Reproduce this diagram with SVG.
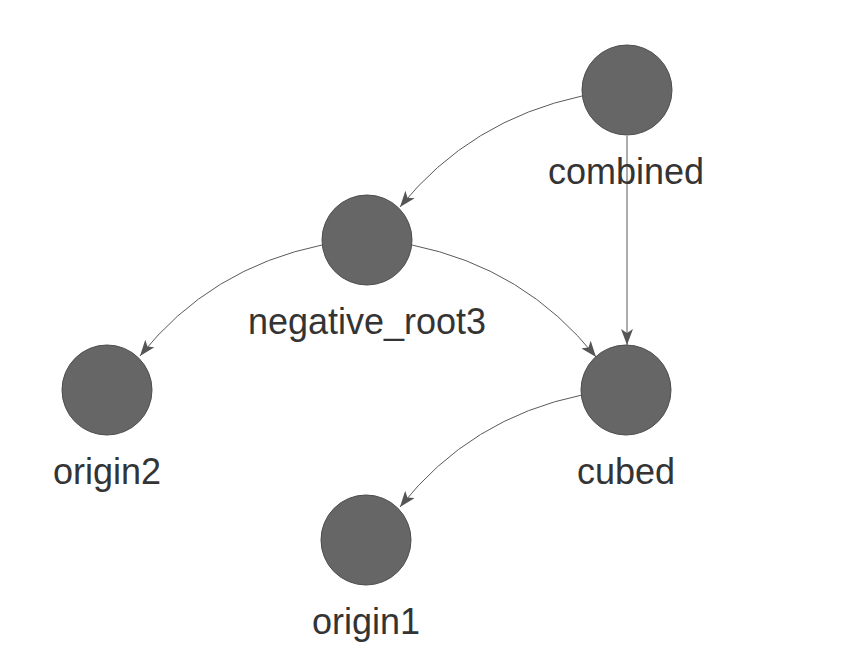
<svg xmlns="http://www.w3.org/2000/svg" width="850" height="671" viewBox="0 0 850 671">
  <style>
    .node circle { fill: #666666; stroke: #4d4d4d; stroke-width: 1; }
    .node text { font-family: "Liberation Sans", Arial, sans-serif; font-size: 36px; fill: #343434; text-anchor: middle; }
    .edge { fill: none; stroke: #5a5a5a; stroke-width: 1; }
  </style>
  <defs>
    <marker id="arrow" viewBox="0 0 16 12" refX="16" refY="6" markerWidth="16" markerHeight="12" markerUnits="userSpaceOnUse" orient="auto">
      <path d="M0,0 L16,6 L0,12 L4,6 Z" fill="#555555"/>
    </marker>
  </defs>
  <rect width="850" height="671" fill="#ffffff"/>
  <g id="edges">
    <path class="edge" d="M582,96 Q470,120 400,207" marker-end="url(#arrow)"/>
    <path class="edge" d="M627,136 L627,345" marker-end="url(#arrow)"/>
    <path class="edge" d="M322,245 Q210,268 140,356" marker-end="url(#arrow)"/>
    <path class="edge" d="M412,245 Q525,268 596,357" marker-end="url(#arrow)"/>
    <path class="edge" d="M582,395 Q470,418 400,507" marker-end="url(#arrow)"/>
  </g>
  <g id="combined" class="node">
    <circle cx="627" cy="90" r="45"/>
    <text x="626" y="184">combined</text>
  </g>
  <g id="negative_root3" class="node">
    <circle cx="367" cy="240" r="45"/>
    <text x="367" y="334">negative_root3</text>
  </g>
  <g id="origin2" class="node">
    <circle cx="107" cy="390" r="45"/>
    <text x="107" y="484">origin2</text>
  </g>
  <g id="cubed" class="node">
    <circle cx="626" cy="390" r="45"/>
    <text x="626" y="484">cubed</text>
  </g>
  <g id="origin1" class="node">
    <circle cx="366" cy="540" r="45"/>
    <text x="366" y="634">origin1</text>
  </g>
</svg>
